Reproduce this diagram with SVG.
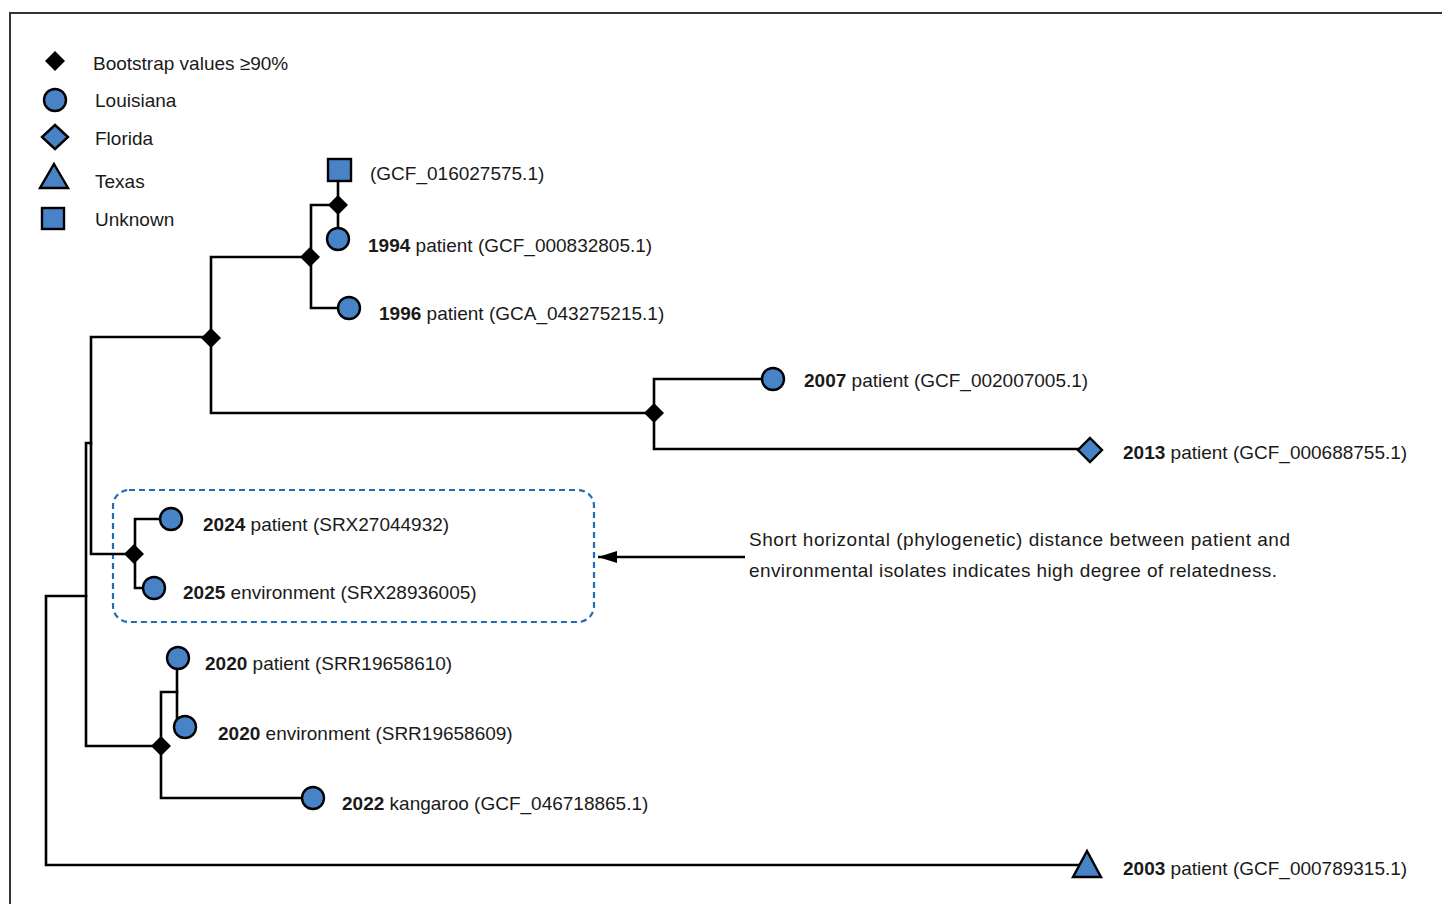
<svg xmlns="http://www.w3.org/2000/svg" width="1442" height="904" viewBox="0 0 1442 904">
  <style>
    .frame { fill: none; stroke: #333333; stroke-width: 2; }
    .branch { fill: none; stroke: #000000; stroke-width: 2.6; stroke-linejoin: miter; stroke-linecap: square; }
    .boot { fill: #000000; }
    .tip { fill: #4783c6; stroke: #000000; stroke-width: 2.4; }
    .lbl { font-family: "Liberation Sans", Arial, sans-serif; font-size: 19px; fill: #1a1a1a; }
    .yr { font-weight: bold; }
    .hilite { fill: none; stroke: #1f6db5; stroke-width: 2.2; stroke-dasharray: 6 4; }
    .pointer { fill: none; stroke: #000000; stroke-width: 2.4; }
  </style>
  <defs>
    <path id="bootMark" d="M0,-10 L10,0 L0,10 L-10,0 Z"/>
    <marker id="arrowHead" markerWidth="19" markerHeight="12" refX="19" refY="6" orient="auto" markerUnits="userSpaceOnUse" viewBox="0 0 19 12">
      <path d="M0,0 L19,6 L0,12 Z" fill="#000000"/>
    </marker>
  </defs>

  <rect width="1442" height="904" fill="#ffffff"/>
  <rect class="frame" x="10" y="13" width="1440" height="900"/>

  <!-- legend -->
  <g id="legend">
    <use href="#bootMark" class="boot" x="55" y="61"/>
    <text class="lbl" x="93" y="70">Bootstrap values ≥90%</text>
    <circle class="tip" cx="55" cy="100" r="11"/>
    <text class="lbl" x="95" y="107">Louisiana</text>
    <path class="tip" d="M55,125 L68,137 L55,149 L42,137 Z"/>
    <text class="lbl" x="95" y="145">Florida</text>
    <path class="tip" d="M54,164 L68,188 L40,188 Z"/>
    <text class="lbl" x="95" y="188">Texas</text>
    <rect class="tip" x="42" y="208" width="22" height="21"/>
    <text class="lbl" x="95" y="226">Unknown</text>
  </g>

  <!-- highlighted clade -->
  <rect id="highlight" class="hilite" x="113" y="490" width="481" height="132" rx="16" ry="16"/>

  <!-- tree branches -->
  <g id="connectors">
    <!-- root -->
    <path class="branch" d="M86,596 H46 V865 H1085"/>
    <path class="branch" d="M91,443 H86 V746 H161"/>
    <path class="branch" d="M211,337 H91 V554 H134"/>
    <!-- upper clade -->
    <path class="branch" d="M310,257 H211 V413 H654"/>
    <path class="branch" d="M337,205 H311 V308 H340"/>
    <path class="branch" d="M338,170 V238"/>
    <path class="branch" d="M762,379 H654 V449 H1080"/>
    <!-- 2024 / 2025 -->
    <path class="branch" d="M160,519 H135 V588 H145"/>
    <!-- 2020 / 2022 -->
    <path class="branch" d="M177,692 H161 V798 H303"/>
    <path class="branch" d="M177,658 V720"/>
    <!-- annotation pointer -->
    <path class="pointer" d="M745,557 H598" marker-end="url(#arrowHead)"/>
  </g>

  <!-- bootstrap support marks -->
  <g id="bootstrap">
    <use href="#bootMark" class="boot" x="211" y="338"/>
    <use href="#bootMark" class="boot" x="310" y="257"/>
    <use href="#bootMark" class="boot" x="338" y="205"/>
    <use href="#bootMark" class="boot" x="654" y="413"/>
    <use href="#bootMark" class="boot" x="134" y="554"/>
    <use href="#bootMark" class="boot" x="161" y="746"/>
  </g>

  <!-- tips -->
  <g id="tip-gcf016027575">
    <rect class="tip" x="328" y="159" width="23" height="22"/>
    <text class="lbl" x="370" y="180">(GCF_016027575.1)</text>
  </g>
  <g id="tip-1994">
    <circle class="tip" cx="338" cy="239" r="11"/>
    <text class="lbl" x="368" y="252"><tspan class="yr">1994</tspan> patient (GCF_000832805.1)</text>
  </g>
  <g id="tip-1996">
    <circle class="tip" cx="349" cy="308" r="11"/>
    <text class="lbl" x="379" y="320"><tspan class="yr">1996</tspan> patient (GCA_043275215.1)</text>
  </g>
  <g id="tip-2007">
    <circle class="tip" cx="773" cy="379" r="11"/>
    <text class="lbl" x="804" y="387"><tspan class="yr">2007</tspan> patient (GCF_002007005.1)</text>
  </g>
  <g id="tip-2013">
    <path class="tip" d="M1090,438 L1102,450 L1090,462 L1078,450 Z"/>
    <text class="lbl" x="1123" y="459"><tspan class="yr">2013</tspan> patient (GCF_000688755.1)</text>
  </g>
  <g id="tip-2024">
    <circle class="tip" cx="171" cy="519" r="11"/>
    <text class="lbl" x="203" y="531"><tspan class="yr">2024</tspan> patient (SRX27044932)</text>
  </g>
  <g id="tip-2025">
    <circle class="tip" cx="154" cy="588" r="11"/>
    <text class="lbl" x="183" y="599"><tspan class="yr">2025</tspan> environment (SRX28936005)</text>
  </g>
  <g id="tip-2020-patient">
    <circle class="tip" cx="178" cy="658" r="11"/>
    <text class="lbl" x="205" y="670"><tspan class="yr">2020</tspan> patient (SRR19658610)</text>
  </g>
  <g id="tip-2020-environment">
    <circle class="tip" cx="185" cy="727" r="11"/>
    <text class="lbl" x="218" y="740"><tspan class="yr">2020</tspan> environment (SRR19658609)</text>
  </g>
  <g id="tip-2022">
    <circle class="tip" cx="313" cy="798" r="11"/>
    <text class="lbl" x="342" y="810"><tspan class="yr">2022</tspan> kangaroo (GCF_046718865.1)</text>
  </g>
  <g id="tip-2003">
    <path class="tip" d="M1087,851 L1101,877 L1073,877 Z"/>
    <text class="lbl" x="1123" y="875"><tspan class="yr">2003</tspan> patient (GCF_000789315.1)</text>
  </g>

  <!-- annotation -->
  <g id="note">
    <text class="lbl" x="749" y="546" textLength="541" lengthAdjust="spacing">Short horizontal (phylogenetic) distance between patient and</text>
    <text class="lbl" x="749" y="577" textLength="528" lengthAdjust="spacing">environmental isolates indicates high degree of relatedness.</text>
  </g>
</svg>
